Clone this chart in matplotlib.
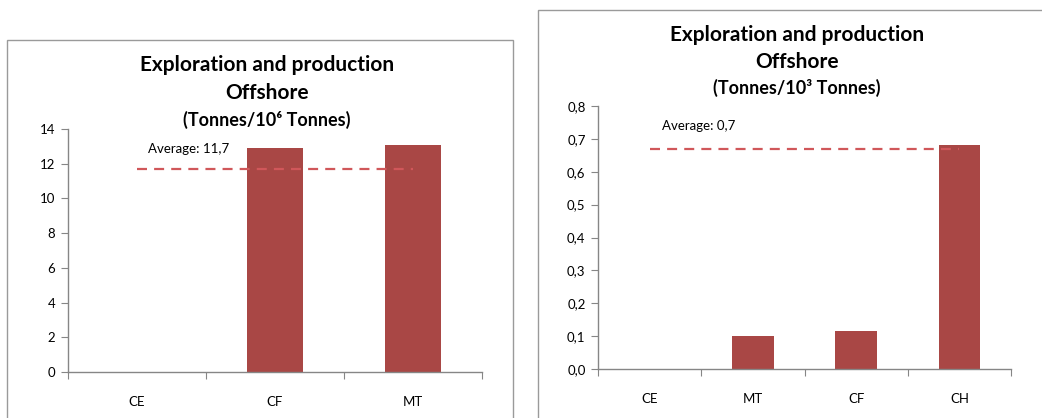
import matplotlib
matplotlib.use("Agg")
import matplotlib.pyplot as plt
from matplotlib.patches import Rectangle
from matplotlib.ticker import FuncFormatter

plt.rcParams['font.family'] = ['Lato', 'DejaVu Sans']

# left chart: Tonnes / 10^6 Tonnes
catsLeft = ['CE', 'CF', 'MT']
valsLeft = [0, 12.9, 13.1]
avgLeft = 11.7

# right chart: Tonnes / 10^3 Tonnes
catsRight = ['CE', 'MT', 'CF', 'CH']
valsRight = [0, 0.10, 0.115, 0.68]
avgRight = 0.67
avgRightLabel = 'Average: 0,7'

barColor = '#A94745'
avgColor = '#D0575A'
axisColor = '#868686'
tickSize = 9.5

fig = plt.figure(figsize=(10.42, 4.18), dpi=100)

# grey frames around each chart
fig.patches.append(Rectangle((7/1042, -0.1), 506/1042, 1.1 - 40/418, transform=fig.transFigure,
                             fill=False, edgecolor='#9a9a9a', linewidth=1.0))
fig.patches.append(Rectangle((538/1042, -0.1), 510/1042, 1.1 - 10/418, transform=fig.transFigure,
                             fill=False, edgecolor='#9a9a9a', linewidth=1.0))


def style_axes(ax, n):
    for s in ['top', 'right']:
        ax.spines[s].set_visible(False)
    for s in ['left', 'bottom']:
        ax.spines[s].set_color(axisColor)
        ax.spines[s].set_linewidth(1.0)
    ax.set_xlim(-0.5, n - 0.5)
    ax.set_xticks([i - 0.5 for i in range(n + 1)])
    ax.set_xticklabels([])
    ax.set_xticks(range(n), minor=True)
    ax.tick_params(axis='x', which='major', length=5, color=axisColor, direction='out')
    ax.tick_params(axis='x', which='minor', length=0, labelsize=tickSize, pad=17)
    ax.tick_params(axis='y', length=5, color=axisColor, labelsize=tickSize, pad=4)


# left chart
ax1 = fig.add_axes([68/1042, 1 - 372/418, 414/1042, 243/418])
x1 = list(range(len(catsLeft)))
ax1.bar(x1, valsLeft, width=0.4, color=barColor, zorder=2)
ax1.plot([0, 2], [avgLeft, avgLeft], color=avgColor, linestyle=(0, (4.5, 3.2)), linewidth=1.6, zorder=3)
ax1.text(0.08, 12.85, 'Average: ' + str(avgLeft).replace('.', ','), fontsize=tickSize, va='center')
ax1.set_ylim(0, 14)
ax1.set_yticks(range(0, 15, 2))
style_axes(ax1, len(catsLeft))
ax1.set_xticklabels(catsLeft, minor=True)

fig.text(267/1042, 1 - 65/418, 'Exploration and production', ha='center', va='center',
         fontsize=15, fontweight='bold')
fig.text(267/1042, 1 - 93/418, 'Offshore', ha='center', va='center', fontsize=15, fontweight='bold')
fig.text(267/1042, 1 - 120/418, '(Tonnes/10\u2076 Tonnes)', ha='center', va='center',
         fontsize=13, fontweight='bold')

# right chart
ax2 = fig.add_axes([598/1042, 1 - 369/418, 413/1042, 263/418])
x2 = list(range(len(catsRight)))
ax2.bar(x2, valsRight, width=0.4, color=barColor, zorder=2)
ax2.plot([0, 3], [avgRight, avgRight], color=avgColor, linestyle=(0, (4.5, 3.2)), linewidth=1.6, zorder=3)
ax2.text(0.12, 0.738, avgRightLabel, fontsize=tickSize, va='center')
ax2.set_ylim(0, 0.8)
ax2.set_yticks([i / 10 for i in range(9)])
ax2.yaxis.set_major_formatter(FuncFormatter(lambda v, p: ('%.1f' % v).replace('.', ',')))
style_axes(ax2, len(catsRight))
ax2.set_xticklabels(catsRight, minor=True)

fig.text(797/1042, 1 - 35/418, 'Exploration and production', ha='center', va='center',
         fontsize=15, fontweight='bold')
fig.text(797/1042, 1 - 62/418, 'Offshore', ha='center', va='center', fontsize=15, fontweight='bold')
fig.text(797/1042, 1 - 88/418, '(Tonnes/10\u00b3 Tonnes)', ha='center', va='center',
         fontsize=13, fontweight='bold')

plt.savefig('out.png', dpi=100)
